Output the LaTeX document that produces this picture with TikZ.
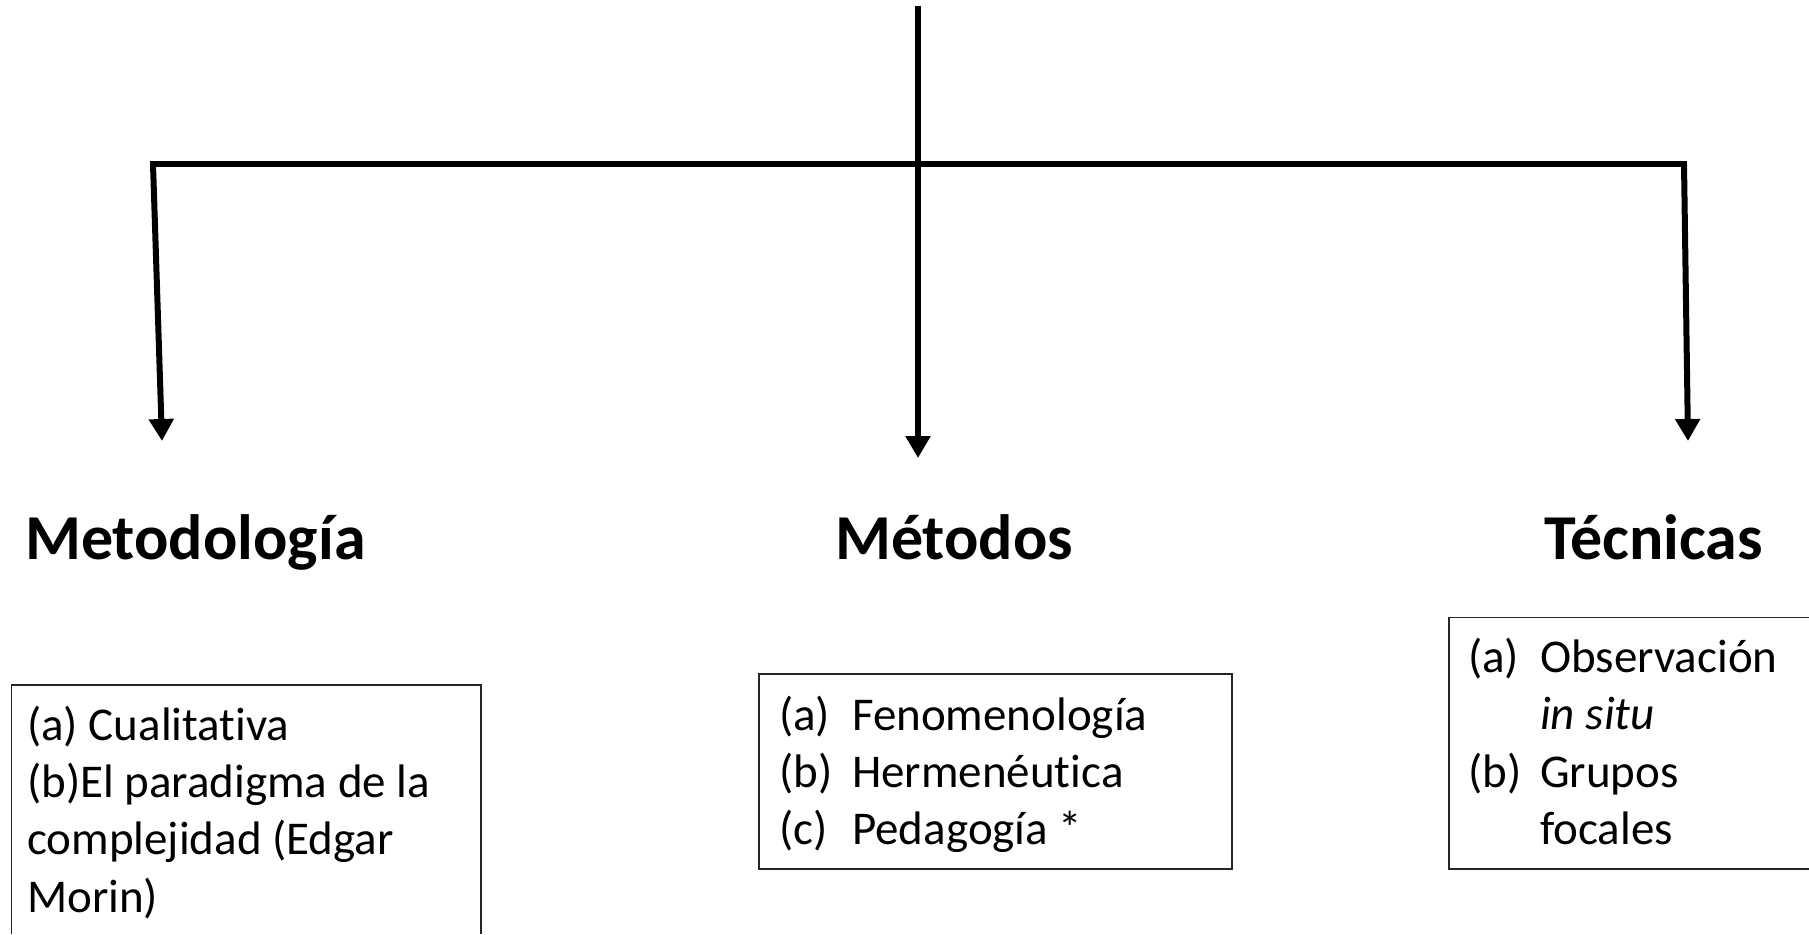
\documentclass[tikz,border=0pt]{standalone}
\usepackage{fontspec}
\setmainfont{Carlito}[Ligatures=NoCommon]
\usetikzlibrary{arrows.meta}
\begin{document}
\begin{tikzpicture}[x=1pt,y=-1pt,
  conn/.style={line width=6pt,-{Triangle[width=24pt,length=22pt]}},
  bar/.style={line width=6pt},
  head/.style={anchor=base west,inner sep=0pt,font=\bfseries\fontsize{64}{77}\selectfont},
  frame/.style={line width=1.8pt,draw=black!85},
  body/.style={anchor=base west,inner sep=0pt,align=left,font=\fontsize{47}{57.2}\selectfont}]
\useasboundingbox[fill=white] (0,0) rectangle (1809,934);
% connectors
\coordinate (top) at (918,6);
\coordinate (hub) at (918,164);
\coordinate (hl) at (153,164);
\coordinate (hr) at (1684,164);
\coordinate (tl) at (162,441);
\coordinate (tm) at (918,458);
\coordinate (tr) at (1688,441);
\draw[bar] (top) -- (hub);
\draw[bar,line cap=rect] (hl) -- (hr);
\draw[conn] (hl) -- (tl);
\draw[conn] (hub) -- (tm);
\draw[conn] (hr) -- (tr);
% headings
\node[head] (metod) at (25,559) {Metodología};
\node[head] (metodos) at (835,559) {Métodos};
\node[head] (tecn) at (1544,559) {Técnicas};
% left box (continues below the page)
\draw[frame] (11.5,934) -- (11.5,685) -- (481,685) -- (481,934);
\node[body] (ltext) at (27,912) {(a) Cualitativa\\(b)El paradigma de la\\complejidad (Edgar\\Morin)};
% middle box
\draw[frame] (759,674) rectangle (1232,869);
\node[body] (mtext) at (779,844.4) {\makebox[73pt][l]{(a)}Fenomenología\\\makebox[73pt][l]{(b)}Hermenéutica\\\makebox[73pt][l]{(c)}Pedagogía *};
% right box (continues beyond the right edge)
\draw[frame] (1809,617.5) -- (1449,617.5) -- (1449,869) -- (1809,869);
\node[body] (rtext) at (1468,844.2) {\makebox[72pt][l]{(a)}Observación\\\hspace*{72pt}\textit{in situ}\\\makebox[72pt][l]{(b)}Grupos\\\hspace*{72pt}focales};
\end{tikzpicture}
\end{document}
